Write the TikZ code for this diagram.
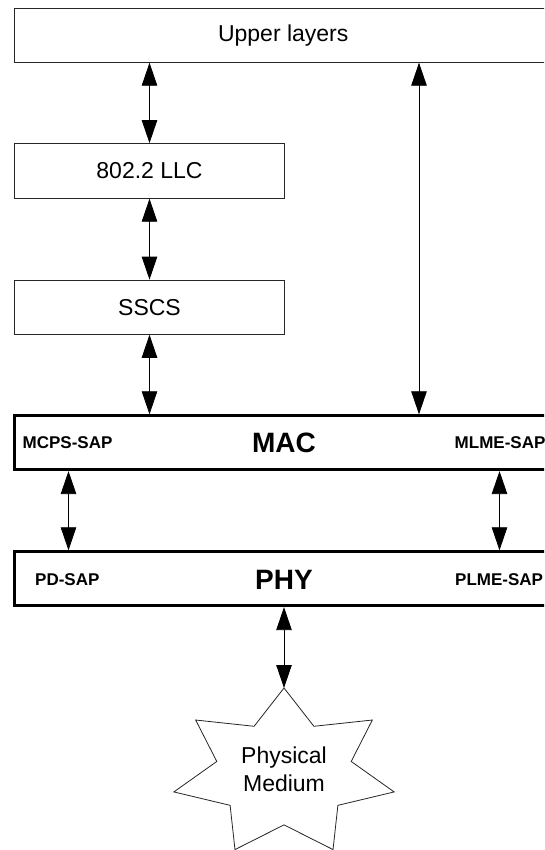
\documentclass[tikz,border=0pt]{standalone}
\usepackage{fontspec}
\setmainfont{Liberation Sans}
\usetikzlibrary{arrows.meta}
\begin{document}
\begin{tikzpicture}[x=1pt,y=1pt,
  thinbox/.style={draw=black!85, line width=0.8pt, fill=white, rectangle, inner sep=0pt},
  thickbox/.style={draw=black, line width=2.8pt, fill=white, rectangle, inner sep=0pt},
  plain/.style={inner sep=0pt, font=\fontsize{23}{28}\selectfont},
  big/.style={inner sep=0pt, font=\fontsize{28}{32}\selectfont\bfseries},
  sap/.style={inner sep=0pt, anchor=west, font=\fontsize{17}{20}\selectfont\bfseries},
  starline/.style={draw=black!85, line width=0.8pt, fill=white},
  link/.style={line width=0.8pt, {Triangle[length=23pt,width=15.5pt]}-{Triangle[length=23pt,width=15.5pt]}}
]
\useasboundingbox (0,0) rectangle (544,-850);
\clip (0,0) rectangle (544,-850);

% boxes (the wide ones run past the right edge of the picture)
\node[thinbox, minimum width=585.5pt, minimum height=53.8pt] (Upper) at (307.25,-35.4) {};
\node[thinbox, minimum width=269.6pt, minimum height=54.8pt] (LLC) at (149.5,-170.9) {};
\node[thinbox, minimum width=269.6pt, minimum height=54.3pt] (SSCS) at (149.5,-307.2) {};
\node[thickbox, minimum width=585.5pt, minimum height=54pt] (MAC) at (307.25,-442.7) {};
\node[thickbox, minimum width=585.5pt, minimum height=54pt] (PHY) at (307.25,-578.7) {};

% box texts
\node[plain] (tUpper) at (283.25,-35.4) {Upper layers};
\node[plain] (tLLC) at (149.5,-170.9) {802.2 LLC};
\node[plain] (tSSCS) at (149.5,-307.2) {SSCS};
\node[big] (tMAC) at (284,-442.7) {MAC};
\node[big] (tPHY) at (284,-579.5) {PHY};

\node[sap] (mcps) at (22.5,-442.7) {MCPS-SAP};
\node[sap] (mlme) at (454.5,-442.7) {MLME-SAP};
\node[sap] (pd) at (35,-579.5) {PD-SAP};
\node[sap] (plme) at (455,-579.5) {PLME-SAP};

% star
\begin{scope}[shift={(284,-773)}, xscale=113, yscale=85]
\draw[starline] (90:1) -- (115.71:0.61) -- (141.43:1) -- (167.14:0.61) -- (192.86:1) -- (218.57:0.61) -- (244.29:1) -- (270:0.61) -- (295.71:1) -- (321.43:0.61) -- (347.14:1) -- (12.86:0.61) -- (38.57:1) -- (64.29:0.61) -- cycle;
\coordinate (startop) at (90:1);
\end{scope}
\node[plain, align=center] (medium) at (284,-769) {Physical\\Medium};

\coordinate (xu) at (419,0);
\coordinate (xl) at (68.5,0);
\coordinate (xr) at (499.5,0);
\coordinate (xp) at (284,0);

\draw[link] (Upper.south -| LLC.north) -- (LLC.north);
\draw[link] (LLC.south) -- (SSCS.north);
\draw[link] (SSCS.south) -- (SSCS.south |- MAC.north);
\draw[link] (Upper.south -| xu) -- (MAC.north -| xu);
\draw[link] (MAC.south -| xl) -- (PHY.north -| xl);
\draw[link] (MAC.south -| xr) -- (PHY.north -| xr);
\draw[link] (PHY.south -| xp) -- (startop);
\end{tikzpicture}
\end{document}
